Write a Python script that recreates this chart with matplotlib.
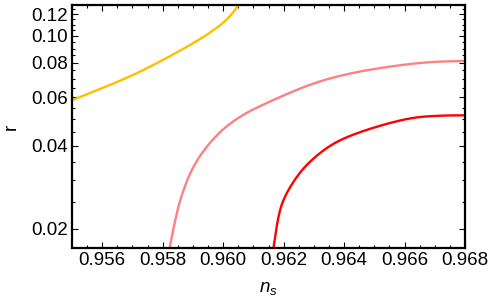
import matplotlib
matplotlib.use("Agg")
import matplotlib.pyplot as plt
from matplotlib.ticker import FixedLocator, FixedFormatter, NullFormatter
import numpy as np

plt.rcParams['font.family'] = ['Liberation Sans', 'DejaVu Sans']
plt.rcParams['mathtext.fontset'] = 'custom'
plt.rcParams['mathtext.it'] = 'Liberation Sans:italic'
plt.rcParams['mathtext.rm'] = 'Liberation Sans'

# yellow curve
ns_yellow = [0.95500, 0.95681, 0.95791, 0.95901, 0.95978, 0.96022, 0.96044, 0.96062]
r_yellow = [0.0585, 0.0703, 0.0807, 0.0940, 0.1065, 0.1173, 0.1268, 0.1340]

# pink curve
ns_pink = [0.958217, 0.95835, 0.95857, 0.95901, 0.95973, 0.96055, 0.96177, 0.96309,
           0.96441, 0.96584, 0.96694, 0.96800]
r_pink = [0.0168, 0.0200, 0.0256, 0.0342, 0.0435, 0.0514, 0.0595, 0.0683,
          0.0742, 0.0785, 0.0807, 0.0812]

# red curve
ns_red = [0.961655, 0.96182, 0.96201, 0.96247, 0.96298, 0.96364, 0.96441, 0.96545,
          0.96634, 0.96717, 0.96800]
r_red = [0.0168, 0.02224, 0.0260, 0.0315, 0.0361, 0.0409, 0.0445, 0.0483,
         0.0508, 0.0515, 0.0516]

x_ticks = [0.956, 0.958, 0.960, 0.962, 0.964, 0.966, 0.968]
x_labels = ["0.956", "0.958", "0.960", "0.962", "0.964", "0.966", "0.968"]
y_ticks = [0.02, 0.04, 0.06, 0.08, 0.10, 0.12]
y_labels = ["0.02", "0.04", "0.06", "0.08", "0.10", "0.12"]


def smooth(xs, ys, iters=5):
    # Chaikin corner cutting in (x, log y) space, endpoints kept
    p = np.column_stack([np.asarray(xs) / 0.013, np.log10(np.asarray(ys)) / 0.88])
    for _ in range(iters):
        q = [p[0]]
        for a, b in zip(p[:-1], p[1:]):
            q.append(0.75 * a + 0.25 * b)
            q.append(0.25 * a + 0.75 * b)
        q.append(p[-1])
        p = np.array(q)
    return p[:, 0] * 0.013, 10 ** (p[:, 1] * 0.88)


fig = plt.figure(figsize=(4.91, 3.06), dpi=100)
ax = fig.add_axes([72/491, 1 - 248/306, (465 - 72)/491, (248 - 5)/306])

for xs, ys, c in [(ns_yellow, r_yellow, '#FFBF00'),
                  (ns_pink, r_pink, '#FF8080'),
                  (ns_red, r_red, '#FF0000')]:
    sx, sy = smooth(xs, ys)
    ax.plot(sx, sy, color=c, lw=1.7, solid_capstyle='butt')

ax.set_yscale('log')
ax.set_xlim(0.955, 0.968)
ax.set_ylim(0.01706, 0.1295)

ax.xaxis.set_major_locator(FixedLocator(x_ticks))
ax.xaxis.set_major_formatter(FixedFormatter(x_labels))
minor_x = [0.955 + 0.0005 * i for i in range(27)]
ax.xaxis.set_minor_locator(FixedLocator(minor_x))
ax.yaxis.set_major_locator(FixedLocator(y_ticks))
ax.yaxis.set_major_formatter(FixedFormatter(y_labels))
minor_y = [0.015 + 0.005 * i for i in range(23)]
ax.yaxis.set_minor_locator(FixedLocator(minor_y))
ax.yaxis.set_minor_formatter(NullFormatter())

ax.tick_params(which='both', direction='in', top=True, right=True, width=0.8,
               color='black')
ax.tick_params(which='major', length=4.0, labelsize=13.5, pad=3)
ax.tick_params(which='minor', length=2.2)
for s in ax.spines.values():
    s.set_linewidth(1.6)

ax.set_xlabel(r'$n_s$', fontsize=13.5, labelpad=8)
ax.set_ylabel('r', fontsize=13.5, labelpad=8)

fig.savefig('out.png', dpi=100)
